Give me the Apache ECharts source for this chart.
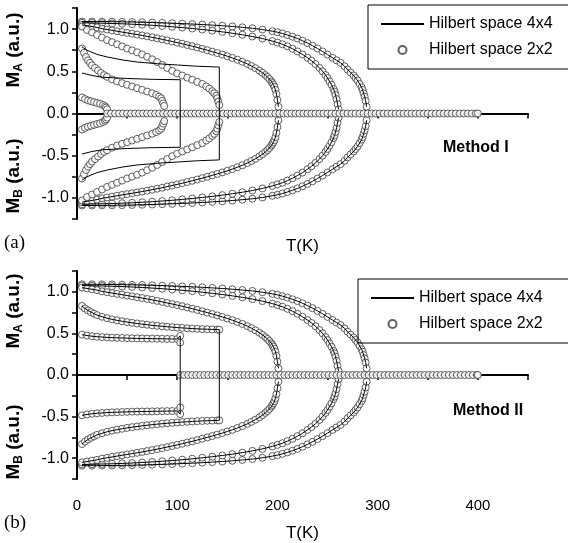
<!DOCTYPE html>
<html>
<head>
<meta charset="utf-8">
<script src="https://cdn.jsdelivr.net/npm/echarts@6/dist/echarts.min.js"></script>
<style>
  html, body { margin: 0; background: #fff; }
  #chart { width: 568px; height: 543px; }
</style>
</head>
<body>
<div id="chart"></div>
<script>
// ---- data: [T (K), M (a.u.)], upper branches only (M_B mirrors M_A) ----
// 2x2 curves shared by both methods
var c287 = [[5,1.09],[15,1.09],[25,1.089],[35,1.088],[45,1.086],[55,1.084],[65,1.081],[75,1.078],[85,1.074],[95,1.07],
  [105,1.065],[115,1.06],[125,1.054],[135,1.047],[145,1.04],[155,1.031],[165,1.021],[175,1.01],[185,0.995],[195,0.975],
  [200,0.963],[205,0.948],[210,0.93],[215,0.91],[220,0.888],[225,0.862],[230,0.834],[235,0.803],[240,0.77],[245,0.735],
  [250,0.698],[255,0.66],[259,0.63],[263,0.6],[267,0.56],[270,0.52],[273,0.485],[276,0.45],[278,0.42],[280,0.39],
  [282,0.35],[284,0.31],[285,0.28],[286,0.24],[287,0.2],[288,0.15],[289,0.08]];
var c260 = [[5,1.075],[15,1.073],[25,1.07],[35,1.067],[45,1.063],[55,1.058],[65,1.052],[75,1.045],[85,1.037],[95,1.028],
  [105,1.018],[115,1.007],[125,0.995],[135,0.982],[145,0.967],[155,0.951],[165,0.933],[175,0.912],[185,0.888],[195,0.858],
  [200,0.84],[205,0.82],[210,0.795],[215,0.767],[220,0.735],[225,0.7],[230,0.66],[234,0.625],[238,0.585],[242,0.54],
  [245,0.5],[248,0.455],[250,0.42],[252,0.38],[254,0.34],[256,0.29],[257,0.26],[258,0.22],[259,0.17],[260,0.11],[261,0.05]];
var c200 = [[5,1.05],[10,1.04],[15,1.03],[20,1.02],[25,1.005],[30,0.995],[35,0.985],[40,0.975],[45,0.965],[50,0.955],
  [55,0.945],[60,0.935],[65,0.925],[70,0.914],[75,0.903],[80,0.891],[85,0.879],[90,0.866],[95,0.853],[100,0.84],
  [105,0.826],[110,0.812],[115,0.797],[120,0.782],[125,0.766],[130,0.75],[135,0.733],[140,0.716],[145,0.698],[150,0.679],
  [155,0.659],[160,0.637],[165,0.613],[170,0.587],[174,0.563],[178,0.537],[182,0.508],[185,0.483],[188,0.455],[190,0.433],
  [192,0.408],[194,0.38],[195,0.36],[196,0.34],[197,0.315],[198,0.28],[199,0.23],[200,0.16],[201,0.08]];

// Method I, 2x2 only
var a142 = [[5,1.03],[10,0.99],[15,0.96],[20,0.93],[25,0.9],[30,0.87],[35,0.845],[40,0.82],[45,0.795],[50,0.77],
  [55,0.748],[60,0.725],[65,0.7],[70,0.672],[75,0.642],[80,0.61],[85,0.575],[90,0.54],[95,0.505],[100,0.475],
  [105,0.45],[110,0.425],[115,0.4],[120,0.375],[125,0.35],[129,0.32],[132,0.295],[135,0.265],[137,0.24],[139,0.21],
  [140,0.18],[141,0.14],[142,0.1]];
var a86 = [[5,0.77],[7,0.72],[9,0.67],[11,0.63],[13,0.6],[15,0.57],[18,0.54],[21,0.51],[24,0.48],[27,0.455],
  [30,0.435],[35,0.405],[40,0.38],[45,0.36],[50,0.34],[55,0.32],[60,0.3],[65,0.28],[70,0.26],[75,0.24],
  [79,0.22],[82,0.2],[84,0.18],[85,0.15],[86,0.12],[87,0.09]];
var a30 = [[5,0.19],[8,0.17],[11,0.155],[14,0.145],[17,0.135],[20,0.125],[23,0.115],[26,0.1],[28,0.085],[29,0.07],[30,0.05]];

// Method I, 4x4 only (first-order jumps)
var line142 = [[5,0.79],[10,0.75],[20,0.7],[30,0.67],[45,0.635],[60,0.61],[80,0.59],[100,0.575],[120,0.56],[142,0.55]];
var line103 = [[5,0.48],[15,0.45],[25,0.43],[50,0.415],[75,0.405],[103,0.4]];

// Method II, 2x2 and 4x4 coincide
var b142 = [[5,0.83],[8,0.8],[11,0.775],[14,0.755],[17,0.737],[20,0.72],[25,0.7],[30,0.683],[35,0.669],[40,0.657],
  [45,0.646],[50,0.636],[55,0.627],[60,0.619],[65,0.611],[70,0.604],[75,0.597],[80,0.591],[85,0.585],[90,0.58],
  [95,0.575],[100,0.57],[105,0.566],[110,0.562],[115,0.558],[120,0.555],[125,0.552],[130,0.55],[135,0.548],[140,0.546],[142,0.545]];
var b103 = [[5,0.485],[10,0.474],[15,0.466],[20,0.46],[25,0.456],[30,0.452],[35,0.449],[40,0.447],[45,0.445],[50,0.443],
  [55,0.441],[60,0.44],[65,0.439],[70,0.438],[75,0.437],[80,0.436],[85,0.435],[90,0.434],[95,0.433],[100,0.432],
  [103,0.47],[103,0.39]];

// zero-magnetisation sampling
var zeroA = [30,34,38,42,46,50,54,58,62,66,70,74,78,82,86,90,94,98,102,106,110,114,118,122,126,130,134,138,142,146,
  150,154,158,162,166,170,174,178,182,186,190,194,198,202,206,210,214,218,222,226,230,234,238,242,246,250,254,258,262,266,
  270,274,278,282,286,290,294,298,302,306,310,314,318,322,326,330,334,338,342,346,350,354,358,362,366,370,374,378,382,386,390,394,398,400];
var zeroB = [103,107,111,115,119,123,127,131,135,139,143,147,151,155,159,163,167,171,175,179,183,187,191,195,199,203,207,211,215,219,
  223,227,231,235,239,243,247,251,255,259,263,267,271,275,279,283,287,291,295,299,303,307,311,315,319,323,327,331,335,339,
  343,347,351,355,359,363,367,371,375,379,383,387,391,395,399,400];

var yTicks = [-1.0, -0.5, 0.0, 0.5, 1.0];
var legendNames = ['Hilbert space 4x4', 'Hilbert space 2x2'];

// ---- helpers ----
function mirror(arr) { return arr.map(function (p) { return [p[0], -p[1]]; }); }
function loop(arr) { return arr.concat(mirror(arr).reverse()); }
function zeros(ts) { return ts.map(function (t) { return [t, 0]; }); }

var FONT = "'Liberation Sans', Arial, sans-serif";

function circles(data, idx) {
  return {
    name: legendNames[1], type: 'scatter', xAxisIndex: idx, yAxisIndex: idx, data: data,
    symbol: 'circle', symbolSize: 7, silent: true, z: 2,
    itemStyle: { color: '#fff', borderColor: '#3a3a3a', borderWidth: 1 }
  };
}
function curve(data, idx) {
  return {
    name: legendNames[0], type: 'line', xAxisIndex: idx, yAxisIndex: idx, data: data,
    symbol: 'none', silent: true, z: 3, smooth: false,
    itemStyle: { color: '#000' },
    lineStyle: { color: '#000', width: 1 }
  };
}

var series = [];
// panel (a)
[c287, c260, c200].forEach(function (c) { series.push(curve(c, 0), curve(mirror(c), 0)); });
series.push(curve(loop(line142), 0), curve(loop(line103), 0));
[c287, c260, c200, a142, a86, a30].forEach(function (c) { series.push(circles(c, 0), circles(mirror(c), 0)); });
series.push(circles(zeros(zeroA), 0));
// panel (b)
[c287, c260, c200].forEach(function (c) { series.push(curve(c, 1), curve(mirror(c), 1)); });
series.push(curve(loop(b142), 1), curve(loop(b103), 1));
[c287, c260, c200, b142, b103].forEach(function (c) { series.push(circles(c, 1), circles(mirror(c), 1)); });
series.push(circles(zeros(zeroB), 1));

function xAxis(idx, labels) {
  return {
    type: 'value', gridIndex: idx, min: 0, max: 450, interval: 50,
    name: 'T(K)', nameLocation: 'middle', nameGap: labels ? 46 : 19,
    nameTextStyle: { fontSize: 17, fontFamily: FONT, color: '#000' },
    axisLine: { show: true, lineStyle: { color: '#000', width: 2 } },
    axisTick: { show: true, inside: false, length: 5, lineStyle: { color: '#000', width: 1.5 } },
    axisLabel: {
      show: labels, margin: 19, fontSize: 15, fontFamily: FONT, color: '#000',
      formatter: function (v) { return v % 100 === 0 && v <= 400 ? String(v) : ''; }
    },
    splitLine: { show: false }
  };
}
function yAxis(idx) {
  return {
    type: 'value', gridIndex: idx, min: -1.25, max: 1.25, interval: 0.25,
    axisLine: { show: true, lineStyle: { color: '#000', width: 2 } },
    axisTick: { show: true, inside: false, length: 5, lineStyle: { color: '#000', width: 1.5 } },
    axisLabel: {
      margin: 8, fontSize: 16, fontFamily: FONT, color: '#000',
      formatter: function (v) {
        for (var i = 0; i < yTicks.length; i++) { if (Math.abs(v - yTicks[i]) < 1e-6) return yTicks[i].toFixed(1); }
        return '';
      }
    },
    splitLine: { show: false }
  };
}
function legend(top, left) {
  return {
    data: [
      { name: legendNames[0], itemStyle: { opacity: 0 } },
      { name: legendNames[1] }
    ],
    orient: 'vertical', left: left, top: top,
    borderColor: '#000', borderWidth: 1, borderRadius: 0, padding: [11, 40, 11, 12],
    itemWidth: 43, itemHeight: 8, itemGap: 10, selectedMode: false,
    textStyle: { fontSize: 16, fontFamily: FONT, color: '#000' }
  };
}
function yTitle(sub, cy) {
  return {
    type: 'text', x: 14, y: cy, rotation: Math.PI / 2,
    style: {
      text: '{m|M}{s|' + sub + '}{m| (a.u.)}', align: 'center', verticalAlign: 'middle',
      rich: {
        m: { fontSize: 19, fontWeight: 'bold', fontFamily: FONT, fill: '#000' },
        s: { fontSize: 12, fontWeight: 'bold', fontFamily: FONT, fill: '#000', padding: [10, 0, 0, 0] }
      }
    }
  };
}

var chart = echarts.init(document.getElementById('chart'), null, { renderer: 'canvas' });
chart.setOption({
  animation: false,
  backgroundColor: '#fff',
  grid: [
    { left: 77, top: 8, width: 451, height: 211 },
    { left: 77, top: 271, width: 451, height: 211 }
  ],
  xAxis: [xAxis(0, false), xAxis(1, true)],
  yAxis: [yAxis(0), yAxis(1)],
  legend: [legend(5, 368), legend(279, 358)],
  graphic: [
    yTitle('A', 50), yTitle('B', 176), yTitle('A', 311), yTitle('B', 442),
    { type: 'text', x: 4, y: 243, style: { text: '(a)', fontSize: 19, fontFamily: "'Liberation Serif', serif", fill: '#000', verticalAlign: 'middle' } },
    { type: 'text', x: 4, y: 523, style: { text: '(b)', fontSize: 19, fontFamily: "'Liberation Serif', serif", fill: '#000', verticalAlign: 'middle' } },
    { type: 'text', x: 443, y: 148, style: { text: 'Method I', fontSize: 16, fontWeight: 'bold', fontFamily: FONT, fill: '#000', verticalAlign: 'middle' } },
    { type: 'text', x: 453, y: 411, style: { text: 'Method II', fontSize: 16, fontWeight: 'bold', fontFamily: FONT, fill: '#000', verticalAlign: 'middle' } }
  ],
  series: series
});
</script>
</body>
</html>
